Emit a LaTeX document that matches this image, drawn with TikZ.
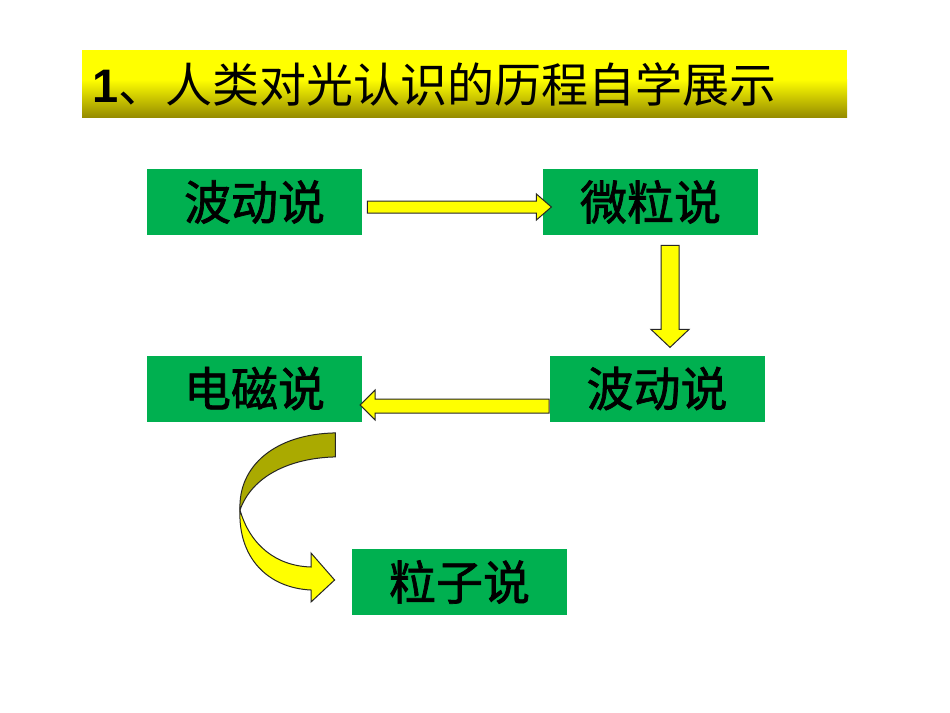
\documentclass[tikz,border=0pt]{standalone}
\usepackage{fontspec}
\setmainfont{Liberation Sans}
\newfontfamily\cjk{Noto Sans CJK SC}
\newfontfamily\cjkbox[FakeBold=1.5]{Noto Sans CJK SC}
\usetikzlibrary{calc}

\definecolor{boxgreen}{RGB}{0,176,80}
\definecolor{arrowyellow}{RGB}{255,255,0}
\definecolor{ribbonback}{RGB}{170,170,0}
\definecolor{barbottom}{RGB}{150,140,0}

\begin{document}
\begin{tikzpicture}[
  x=0.5pt, y=-0.5pt,
  theory/.style={fill=boxgreen, minimum width=107.5pt, minimum height=33pt, inner sep=0pt, font=\cjkbox\fontsize{23.5}{28}\selectfont},
  headline/.style={inner sep=0pt, font=\fontsize{23.5}{28}\selectfont},
  blockarrow/.style={fill=arrowyellow, draw=black!85, line width=0.5pt, line join=miter},
  backside/.style={blockarrow, fill=ribbonback}
]

% Page and title bar
\fill[white] (0,0) rectangle (950,713);
\useasboundingbox (0,0) rectangle (950,713);
\fill[arrowyellow] (82,50) rectangle (847,80);
\shade[top color=arrowyellow, bottom color=barbottom] (82,79.5) rectangle (847,117);
\node[headline, anchor=west] (title) at (92,84) {\textbf{1}\cjk 、人类对光认识的历程自学展示};

% Theory boxes
\node[theory] (wave1)    at (254.5,202)   {波动说};
\node[theory] (corp)     at (650.5,202)   {微粒说};
\node[theory] (emag)     at (254.5,388.5) {电磁说};
\node[theory] (wave2)    at (657,388.5)   {波动说};
\node[theory] (particle) at (459.5,582)   {粒子说};

% Block arrows between the boxes
\draw[blockarrow] ($(wave1.east)+(5,-1)$) -- ++(169,0) -- ++(0,-7) -- ++(15,13) -- ++(-15,13) -- ++(0,-7) -- ++(-169,0) -- cycle;
\draw[blockarrow] ($(corp.south)+(10.5,10)$) -- ++(0,84) -- ++(-10,0) -- ++(19,18) -- ++(19,-18) -- ++(-10,0) -- ++(0,-84) -- cycle;
\draw[blockarrow] ($(wave2.west)+(0,10.5)$) -- ++(-174,0) -- ++(0,-9) -- ++(-15,15) -- ++(15,15) -- ++(0,-7) -- ++(174,0) -- cycle;

% Curved ribbon arrow from the electromagnetic box to the particle box
\coordinate (rtop) at ($(emag.south east)+(-27,11)$);
\coordinate (rtip) at ($(particle.west)+(-17,-2)$);
\draw[backside] (rtop) -- ++(0,24) .. controls (290,458) and (252,476) .. (240,510)
  .. controls (238,466) and (275,434) .. (rtop) -- cycle;
\draw[blockarrow] (240,510) .. controls (250,545) and (276,566) .. (311,567) -- (311,553) -- (rtip)
  -- (311,602) -- (311,590) .. controls (268,588) and (238,558) .. (240,510) -- cycle;

\end{tikzpicture}
\end{document}
